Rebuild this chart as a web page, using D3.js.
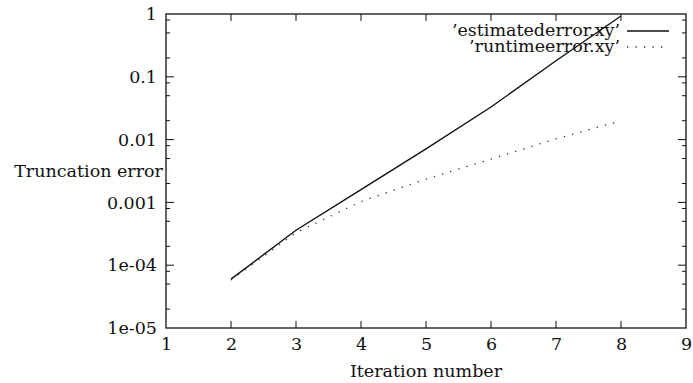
<!DOCTYPE html>
<html>
<head>
<meta charset="utf-8">
<script src="https://cdn.jsdelivr.net/npm/d3@7"></script>
<style>
  body { margin: 0; background: #fff; }
</style>
</head>
<body>
<div class="display"></div>
<script>
const iterations = [2, 3, 4, 5, 6, 7, 8];
const estimateError = [6.0e-5, 3.6e-4, 1.6e-3, 7.1e-3, 0.033, 0.18, 0.93];
const runtimeError = [5.8e-5, 3.3e-4, 1.03e-3, 2.35e-3, 4.9e-3, 0.0103, 0.0199];
const xTicks = [1, 2, 3, 4, 5, 6, 7, 8, 9];
const yTicks = [1, 0.1, 0.01, 0.001, 1e-4, 1e-5];
const yTickLabels = ['1', '0.1', '0.01', '0.001', '1e-04', '1e-05'];
const seriesNames = ['\u2019estimatederror.xy\u2019', '\u2019runtimeerror.xy\u2019'];

const width = 693;
const height = 383;
const plotLeft = 166, plotRight = 686, plotTop = 14, plotBottom = 328;
const fontFamily = 'DejaVu Serif';
const font = 17.5;

const svg = d3.select('.display')
  .append('svg')
  .attr('width', width)
  .attr('height', height)
  .attr('font-family', fontFamily);

const xScale = d3.scaleLinear().domain([1, 9]).range([plotLeft, plotRight]);
const yScale = d3.scaleLog().domain([1e-5, 1]).range([plotBottom, plotTop]);

// minor ticks at 2, 5, 8 of each decade
const minorTicks = [];
for (let e = -5; e < 0; e++) {
  [2, 5, 8].forEach(m => minorTicks.push(m * Math.pow(10, e)));
}

const axisColor = '#111';

// x tick labels
const xAxisB = d3.axisBottom(xScale).tickValues(xTicks).tickSize(0).tickPadding(10).tickFormat(d3.format('d'));
const gx = svg.append('g').attr('transform', `translate(0, ${plotBottom})`).call(xAxisB);
gx.attr('font-family', fontFamily).attr('font-size', font);
gx.select('.domain').remove();
gx.selectAll('text').attr('fill', '#111');

const tickLines = svg.append('g').attr('stroke', axisColor).attr('stroke-width', 1);
xTicks.slice(1, -1).forEach(v => {
  tickLines.append('line').attr('x1', xScale(v)).attr('x2', xScale(v)).attr('y1', plotBottom).attr('y2', plotBottom - 7);
  tickLines.append('line').attr('x1', xScale(v)).attr('x2', xScale(v)).attr('y1', plotTop).attr('y2', plotTop + 7);
});
yTicks.slice(1, -1).forEach(v => {
  tickLines.append('line').attr('x1', plotLeft).attr('x2', plotLeft + 8).attr('y1', yScale(v)).attr('y2', yScale(v));
  tickLines.append('line').attr('x1', plotRight).attr('x2', plotRight - 8).attr('y1', yScale(v)).attr('y2', yScale(v));
});
minorTicks.forEach(v => {
  tickLines.append('line').attr('x1', plotLeft).attr('x2', plotLeft + 4).attr('y1', yScale(v)).attr('y2', yScale(v));
  tickLines.append('line').attr('x1', plotRight).attr('x2', plotRight - 4).attr('y1', yScale(v)).attr('y2', yScale(v));
});

const yAxis = d3.axisLeft(yScale).tickValues(yTicks).tickSize(0).tickPadding(9)
  .tickFormat((d, i) => yTickLabels[i]);
const gy = svg.append('g').attr('transform', `translate(${plotLeft}, 0)`).call(yAxis);
gy.attr('font-family', fontFamily).attr('font-size', font);
gy.select('.domain').remove();
gy.selectAll('text').attr('fill', '#111');

// frame
svg.append('rect')
  .attr('x', plotLeft).attr('y', plotTop)
  .attr('width', plotRight - plotLeft).attr('height', plotBottom - plotTop)
  .attr('fill', 'none').attr('stroke', axisColor).attr('stroke-width', 1.3);

// axis titles
svg.append('text')
  .attr('x', 163).attr('y', 177)
  .attr('text-anchor', 'end')
  .attr('font-size', font)
  .attr('fill', '#111')
  .text('Truncation error');

svg.append('text')
  .attr('x', (plotLeft + plotRight) / 2).attr('y', 377)
  .attr('text-anchor', 'middle')
  .attr('font-size', font)
  .attr('fill', '#111')
  .text('Iteration number');

// series
const line = d3.line()
  .x(d => xScale(d[0]))
  .y(d => yScale(d[1]));

svg.append('path')
  .datum(iterations.map((x, i) => [x, estimateError[i]]))
  .attr('d', line)
  .attr('fill', 'none')
  .attr('stroke', '#111')
  .attr('stroke-width', 1.4);

svg.append('path')
  .datum(iterations.map((x, i) => [x, runtimeError[i]]))
  .attr('d', line)
  .attr('fill', 'none')
  .attr('stroke', '#333')
  .attr('stroke-width', 1.3)
  .attr('stroke-dasharray', '1.3,7.2');

// legend
const legend = svg.append('g');
seriesNames.forEach((name, i) => {
  const y = 31 + i * 16;
  legend.append('text')
    .attr('x', 620).attr('y', y + 5)
    .attr('text-anchor', 'end')
    .attr('font-size', font)
    .attr('fill', '#111')
    .text(name);
  legend.append('line')
    .attr('x1', 627).attr('x2', 669)
    .attr('y1', y).attr('y2', y)
    .attr('stroke', i === 0 ? '#111' : '#333')
    .attr('stroke-width', i === 0 ? 1.4 : 1.3)
    .attr('stroke-dasharray', i === 0 ? null : '1.3,7.2');
});
</script>
</body>
</html>
